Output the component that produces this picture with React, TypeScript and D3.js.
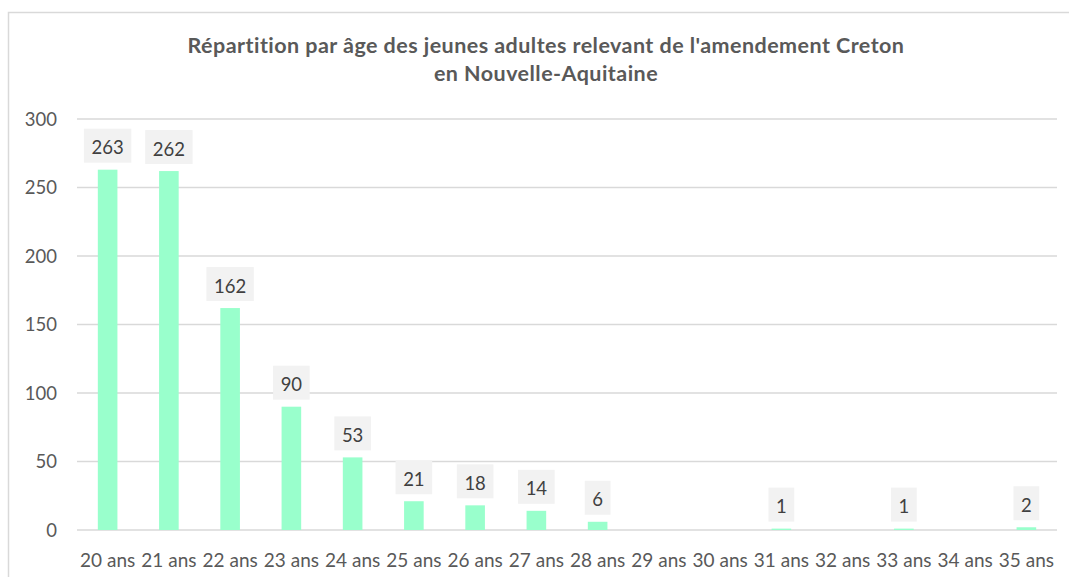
import React from 'react';
import * as d3 from 'd3';

const ages = ['20 ans', '21 ans', '22 ans', '23 ans', '24 ans', '25 ans', '26 ans', '27 ans',
    '28 ans', '29 ans', '30 ans', '31 ans', '32 ans', '33 ans', '34 ans', '35 ans'];
const counts = [263, 262, 162, 90, 53, 21, 18, 14, 6, 0, 0, 1, 0, 1, 0, 2];
const yTicks = [0, 50, 100, 150, 200, 250, 300];
const titleLines = [
    "Répartition par âge des jeunes adultes relevant de l'amendement Creton",
    'en Nouvelle-Aquitaine',
];

const W = 1069;
const H = 577;
const font = 'Lato, "Open Sans", sans-serif';

const App = () => {
    const x = d3.scaleBand<string>()
        .domain(ages)
        .range([77, 1057])
        .paddingInner(0.68)
        .paddingOuter(0.34);

    const y = d3.scaleLinear()
        .domain([0, 300])
        .range([530, 119]);

    const data = ages.map((a, i) => ({ age: a, value: counts[i] }));

    return (
        <svg width={W} height={H} style={{ position: 'absolute', left: 0, top: 0, background: '#fff' }}>
            {/* chart frame */}
            <rect x={8.5} y={12.5} width={W + 20} height={H + 20} fill="#fff" stroke="#d9d9d9" strokeWidth={1.5} />

            {titleLines.map((t, i) => (
                <text key={i} x={546} y={53 + i * 28} textAnchor="middle" fontFamily={font}
                    fontWeight="bold" fontSize={21.5} letterSpacing={0.45} fill="#595959">{t}</text>
            ))}

            {/* grid + y ticks */}
            {yTicks.map(t => (
                <g key={t}>
                    <line x1={77} x2={1057} y1={y(t)} y2={y(t)} stroke="#d9d9d9" strokeWidth={1.6} />
                    <text x={57} y={y(t)} dy="0.36em" textAnchor="end" fontFamily={font}
                        fontSize={18.5} fill="#595959">{t}</text>
                </g>
            ))}

            {/* bars */}
            {data.map(d => (
                <rect key={d.age} x={x(d.age)} y={y(d.value)} width={x.bandwidth()}
                    height={y(0) - y(d.value)} fill="#99ffcc" />
            ))}

            {/* data labels */}
            {data.filter(d => d.value > 0).map(d => {
                const cx = (x(d.age) as number) + x.bandwidth() / 2;
                const bw = String(d.value).length * 10.8 + 15;
                const bottom = y(d.value) - 7;
                return (
                    <g key={'l' + d.age}>
                        <rect x={cx - bw / 2} y={bottom - 34} width={bw} height={34} fill="#f2f2f2" />
                        <text x={cx} y={bottom - 8.5} textAnchor="middle" fontFamily={font}
                            fontSize={18.5} fill="#404040">{d.value}</text>
                    </g>
                );
            })}

            {/* x labels */}
            {ages.map(a => (
                <text key={'x' + a} x={(x(a) as number) + x.bandwidth() / 2} y={567} textAnchor="middle"
                    fontFamily={font} fontSize={19} fill="#595959">{a}</text>
            ))}
        </svg>
    );
};

export default App;
